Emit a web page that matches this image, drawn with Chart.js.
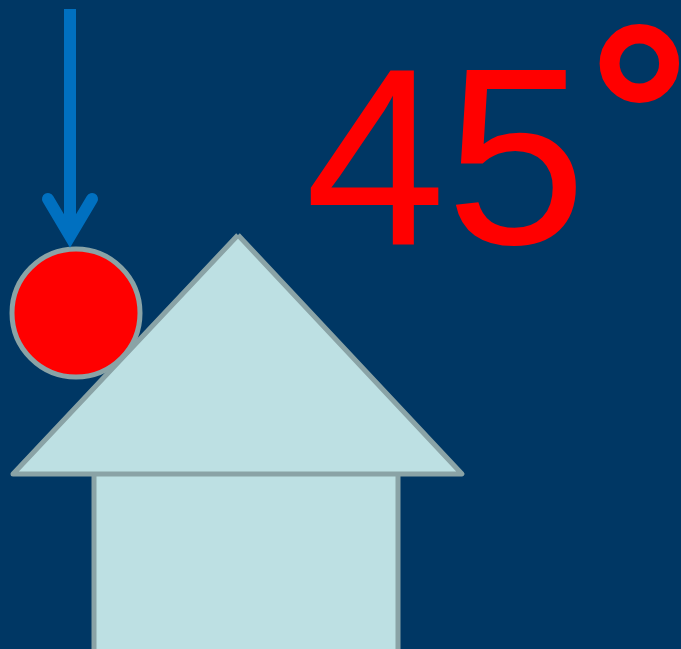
<!DOCTYPE html>
<html>
<head>
<meta charset="utf-8">
<script src="https://cdn.jsdelivr.net/npm/chart.js@4/dist/chart.umd.min.js"></script>
<style>
  html, body { margin: 0; padding: 0; background: #003764; }
  #wrap { width: 681px; height: 649px; }
</style>
</head>
<body>
<div id="wrap"><canvas id="dibujo" width="681" height="649"></canvas></div>
<script>
// figura: casa, bola, flecha y angulo
var techoX = [238, 462, 13, 238];
var techoY = [235, 474, 474, 235];
var paredX = [94, 94, 398, 398];
var paredY = [474, 665, 665, 474];
var bolaX = [76];
var bolaY = [313];
var flechaX = [70, 70];
var flechaY = [9, 236];
var puntaX = [48, 70, 92];
var puntaY = [199, 236, 199];
var numero = '45';
var grado = '°';

function puntos(xs, ys) {
    var p = [];
    for (var i = 0; i < xs.length; i++) {
        p.push({ x: xs[i], y: ys[i] });
    }
    return p;
}

var fondo = {
    id: 'fondo',
    beforeDraw: function (chart) {
        var ctx = chart.ctx;
        ctx.save();
        ctx.fillStyle = '#003764';
        ctx.fillRect(0, 0, chart.width, chart.height);
        ctx.restore();
    }
};

var texto = {
    id: 'texto',
    afterDatasetsDraw: function (chart) {
        var ctx = chart.ctx;
        ctx.save();
        ctx.fillStyle = '#ff0000';
        ctx.strokeStyle = '#ff0000';
        ctx.textBaseline = 'alphabetic';
        ctx.textAlign = 'left';
        ctx.font = '253px "Liberation Sans", Arial, sans-serif';
        ctx.fillText(numero, 305, 244);
        // el grado va mas grueso
        ctx.font = '262px "Liberation Sans", Arial, sans-serif';
        ctx.lineWidth = 6;
        ctx.fillText(grado, 587, 210);
        ctx.strokeText(grado, 587, 210);
        ctx.restore();
    }
};

var borde = '#8aa3a6';
var relleno = '#bde0e3';

new Chart(document.getElementById('dibujo'), {
    type: 'scatter',
    data: {
        datasets: [{
            data: puntos(paredX, paredY),
            showLine: true,
            fill: 'shape',
            backgroundColor: relleno,
            borderColor: borde,
            borderWidth: 5,
            borderJoinStyle: 'miter',
            pointRadius: 0,
            clip: false,
            order: 5
        }, {
            data: puntos(techoX, techoY),
            showLine: true,
            fill: 'shape',
            backgroundColor: relleno,
            borderColor: borde,
            borderWidth: 5,
            borderJoinStyle: 'round',
            pointRadius: 0,
            clip: false,
            order: 4
        }, {
            data: puntos(bolaX, bolaY),
            pointRadius: 64,
            pointBorderWidth: 5,
            pointBackgroundColor: '#ff0000',
            pointBorderColor: borde,
            clip: false,
            order: 3
        }, {
            data: puntos(flechaX, flechaY),
            showLine: true,
            fill: false,
            borderColor: '#0070c0',
            borderWidth: 12,
            borderCapStyle: 'butt',
            pointRadius: 0,
            clip: false,
            order: 2
        }, {
            data: puntos(puntaX, puntaY),
            showLine: true,
            fill: false,
            borderColor: '#0070c0',
            borderWidth: 12,
            borderCapStyle: 'round',
            borderJoinStyle: 'miter',
            pointRadius: 0,
            clip: false,
            order: 1
        }]
    },
    options: {
        responsive: false,
        animation: false,
        layout: { padding: 0, autoPadding: false },
        plugins: {
            legend: { display: false },
            tooltip: { enabled: false }
        },
        scales: {
            x: { type: 'linear', min: 0, max: 681, display: false },
            y: { type: 'linear', min: 0, max: 649, reverse: true, display: false }
        }
    },
    plugins: [fondo, texto]
});
</script>
</body>
</html>
